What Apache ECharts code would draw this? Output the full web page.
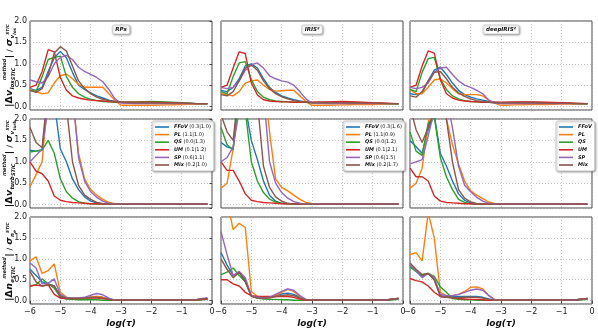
<!DOCTYPE html>
<html><head><meta charset="utf-8">
<script src="https://cdn.jsdelivr.net/npm/echarts@6/dist/echarts.min.js"></script>
<style>html,body{margin:0;padding:0;background:#fff}#c{width:598px;height:329px}</style>
</head><body><div id="c"></div>
<script>
// x positions: log(tau)
const X = [-6,-5.8,-5.6,-5.4,-5.2,-5,-4.8,-4.6,-4.4,-4.2,-4,-3.8,-3.6,-3.4,-3.2,-3,-2.5,-2,-1.5,-1,-0.5,-0.15];
const methods = ['FFoV','PL','QS','UM','SP','Mix'];
const colTitles = ['RPs','IRIS²','deepIRIS²'];
const yTicks = [0.0,0.5,1.0,1.5,2.0];
const xTicks = [-6,-5,-4,-3,-2,-1,0];
const legendRPs = ['FFoV (0.3|1.0)','PL (1.1|1.0)','QS (0.0|1.3)','UM (0.1|1.2)','SP (0.6|1.1)','Mix (0.2|1.0)'];
const legendIRIS = ['FFoV (0.3|1.6)','PL (1.1|0.9)','QS (0.0|1.2)','UM (0.1|2.1)','SP (0.6|1.5)','Mix (0.2|1.7)'];
const legendDeep = ['FFoV','PL','QS','UM','SP','Mix'];

// Row 1: |Δv_los| / σ
const los_RPs_FFoV = [0.42,0.38,0.45,0.82,1.14,1.29,1.14,0.8,0.5,0.4,0.32,0.25,0.2,0.15,0.12,0.1,0.09,0.09,0.08,0.08,0.07,0.07];
const los_RPs_PL   = [0.4,0.35,0.3,0.32,0.55,0.72,0.76,0.65,0.52,0.45,0.45,0.45,0.45,0.3,0.15,0.03,0.03,0.03,0.04,0.05,0.06,0.07];
const los_RPs_QS   = [0.38,0.35,0.7,1.1,1.15,1.18,0.7,0.45,0.3,0.22,0.17,0.14,0.12,0.11,0.1,0.1,0.11,0.12,0.11,0.09,0.07,0.06];
const los_RPs_UM   = [0.45,0.5,0.82,1.33,1.28,0.68,0.38,0.25,0.2,0.17,0.15,0.14,0.13,0.12,0.11,0.1,0.1,0.1,0.09,0.08,0.07,0.07];
const los_RPs_SP   = [0.62,0.58,0.55,0.7,1.0,1.15,1.2,1.1,0.92,0.82,0.75,0.68,0.58,0.4,0.18,0.08,0.07,0.07,0.07,0.07,0.07,0.07];
const los_RPs_Mix  = [0.38,0.33,0.42,0.75,1.25,1.4,1.3,0.95,0.6,0.42,0.3,0.22,0.17,0.14,0.12,0.1,0.09,0.09,0.08,0.08,0.07,0.07];

const los_IRIS_FFoV = [0.38,0.35,0.45,0.65,0.95,1.0,0.9,0.65,0.45,0.33,0.25,0.2,0.16,0.13,0.11,0.1,0.09,0.09,0.09,0.08,0.07,0.07];
const los_IRIS_PL   = [0.3,0.28,0.25,0.35,0.55,0.6,0.62,0.5,0.4,0.36,0.37,0.38,0.38,0.25,0.12,0.03,0.03,0.04,0.05,0.05,0.06,0.06];
const los_IRIS_QS   = [0.35,0.3,0.7,1.02,1.05,0.63,0.35,0.22,0.16,0.13,0.12,0.11,0.1,0.1,0.1,0.09,0.1,0.1,0.09,0.08,0.07,0.06];
const los_IRIS_UM   = [0.45,0.5,0.9,1.28,1.24,0.55,0.27,0.16,0.13,0.12,0.11,0.11,0.1,0.1,0.1,0.1,0.11,0.12,0.11,0.09,0.08,0.07];
const los_IRIS_SP   = [0.45,0.42,0.45,0.6,0.85,0.98,1.02,0.9,0.72,0.65,0.6,0.57,0.5,0.35,0.18,0.08,0.07,0.07,0.07,0.07,0.07,0.07];
const los_IRIS_Mix  = [0.28,0.25,0.35,0.6,0.9,0.97,0.85,0.6,0.42,0.3,0.23,0.18,0.14,0.12,0.1,0.09,0.09,0.09,0.08,0.08,0.07,0.07];

const los_Deep_FFoV = [0.3,0.28,0.32,0.6,0.85,0.92,0.75,0.55,0.38,0.28,0.22,0.18,0.15,0.12,0.1,0.09,0.09,0.09,0.08,0.08,0.07,0.07];
const los_Deep_PL   = [0.4,0.3,0.3,0.45,0.62,0.65,0.55,0.42,0.3,0.28,0.28,0.28,0.25,0.15,0.08,0.03,0.04,0.05,0.05,0.06,0.06,0.06];
const los_Deep_QS   = [0.4,0.35,0.8,1.12,1.15,0.65,0.4,0.25,0.18,0.14,0.12,0.11,0.1,0.1,0.09,0.09,0.1,0.1,0.09,0.08,0.07,0.06];
const los_Deep_UM   = [0.45,0.5,0.95,1.3,1.25,0.63,0.3,0.2,0.15,0.13,0.12,0.11,0.1,0.1,0.1,0.1,0.11,0.11,0.1,0.09,0.08,0.07];
const los_Deep_SP   = [0.45,0.42,0.45,0.55,0.8,0.9,0.92,0.75,0.6,0.5,0.45,0.38,0.3,0.15,0.08,0.07,0.07,0.07,0.07,0.07,0.07,0.07];
const los_Deep_Mix  = [0.25,0.22,0.35,0.6,0.8,0.82,0.65,0.45,0.32,0.24,0.18,0.14,0.12,0.1,0.09,0.09,0.09,0.09,0.08,0.08,0.07,0.07];

// Row 2: |Δv_turb| / σ
const turb_RPs_FFoV = [1.27,1.25,1.27,2.6,2.4,1.3,1.0,0.6,0.35,0.18,0.08,0.04,0.02,0.01,0.01,0.01,0.01,0.01,0.01,0.01,0.01,0.01];
const turb_RPs_PL   = [0.42,0.7,1.0,2.6,3.5,3.6,3.2,2.6,1.2,0.6,0.35,0.22,0.12,0.05,0.02,0.01,0.01,0.01,0.01,0.01,0.01,0.01];
const turb_RPs_QS   = [1.23,1.25,1.28,1.5,1.2,0.6,0.3,0.15,0.07,0.03,0.02,0.01,0.01,0.01,0.01,0.01,0.01,0.01,0.01,0.01,0.01,0.01];
const turb_RPs_UM   = [1.0,0.78,0.72,0.55,0.2,0.1,0.07,0.05,0.04,0.03,0.02,0.02,0.01,0.01,0.01,0.01,0.01,0.01,0.01,0.01,0.01,0.01];
const turb_RPs_SP   = [1.0,1.15,1.3,2.3,3.2,3.5,3.2,2.6,1.1,0.55,0.3,0.17,0.08,0.03,0.01,0.01,0.01,0.01,0.01,0.01,0.01,0.01];
const turb_RPs_Mix  = [1.8,1.45,1.33,2.8,3.2,3.0,2.3,1.0,0.45,0.22,0.12,0.05,0.02,0.01,0.01,0.01,0.01,0.01,0.01,0.01,0.01,0.01];

const turb_IRIS_FFoV = [1.45,1.35,1.3,2.6,2.3,1.5,1.05,0.55,0.22,0.08,0.03,0.02,0.01,0.01,0.01,0.01,0.01,0.01,0.01,0.01,0.01,0.01];
const turb_IRIS_PL   = [0.38,0.5,1.3,2.8,3.5,3.6,3.4,3.0,1.7,0.6,0.4,0.32,0.22,0.12,0.05,0.02,0.01,0.01,0.01,0.01,0.01,0.01];
const turb_IRIS_QS   = [1.8,1.4,1.28,2.6,2.2,1.0,0.55,0.28,0.13,0.06,0.03,0.02,0.01,0.01,0.01,0.01,0.01,0.01,0.01,0.01,0.01,0.01];
const turb_IRIS_UM   = [1.0,0.8,0.8,0.55,0.25,0.1,0.07,0.05,0.04,0.03,0.02,0.02,0.02,0.01,0.01,0.01,0.01,0.01,0.01,0.01,0.01,0.01];
const turb_IRIS_SP   = [1.0,1.1,1.35,2.2,3.0,3.4,3.2,2.6,1.0,0.5,0.28,0.15,0.07,0.03,0.01,0.01,0.01,0.01,0.01,0.01,0.01,0.01];
const turb_IRIS_Mix  = [2.1,1.7,1.5,2.8,3.2,3.0,2.4,0.9,0.4,0.18,0.08,0.03,0.01,0.01,0.01,0.01,0.01,0.01,0.01,0.01,0.01,0.01];

const turb_Deep_FFoV = [1.5,1.35,1.2,1.75,2.1,1.2,0.9,0.55,0.25,0.1,0.04,0.02,0.01,0.01,0.01,0.01,0.01,0.01,0.01,0.01,0.01,0.01];
const turb_Deep_PL   = [0.38,0.5,0.85,1.9,2.6,3.0,2.0,1.4,0.95,0.55,0.32,0.22,0.14,0.06,0.02,0.01,0.01,0.01,0.01,0.01,0.01,0.01];
const turb_Deep_QS   = [1.7,1.25,1.15,1.9,2.05,1.1,0.65,0.35,0.12,0.05,0.02,0.01,0.01,0.01,0.01,0.01,0.01,0.01,0.01,0.01,0.01,0.01];
const turb_Deep_UM   = [0.85,0.65,0.65,0.55,0.2,0.08,0.05,0.04,0.03,0.02,0.02,0.01,0.01,0.01,0.01,0.01,0.01,0.01,0.01,0.01,0.01,0.01];
const turb_Deep_SP   = [0.95,1.0,1.05,1.6,2.2,2.8,2.5,1.8,0.9,0.45,0.3,0.17,0.08,0.03,0.01,0.01,0.01,0.01,0.01,0.01,0.01,0.01];
const turb_Deep_Mix  = [2.3,1.75,1.45,1.8,2.2,2.4,2.0,1.0,0.35,0.15,0.06,0.02,0.01,0.01,0.01,0.01,0.01,0.01,0.01,0.01,0.01,0.01];

// Row 3: |Δn_e| / σ
const ne_RPs_FFoV = [0.75,0.6,0.45,0.4,0.35,0.12,0.07,0.06,0.06,0.07,0.09,0.1,0.08,0.04,0.01,0.01,0.01,0.01,0.01,0.01,0.02,0.05];
const ne_RPs_PL   = [0.95,1.05,0.65,0.72,0.88,0.2,0.08,0.05,0.05,0.06,0.08,0.1,0.08,0.04,0.01,0.01,0.01,0.01,0.01,0.01,0.02,0.04];
const ne_RPs_QS   = [0.35,0.38,0.52,0.4,0.3,0.08,0.04,0.03,0.02,0.02,0.02,0.02,0.01,0.01,0.01,0.01,0.01,0.01,0.01,0.01,0.01,0.03];
const ne_RPs_UM   = [0.35,0.37,0.35,0.38,0.15,0.06,0.05,0.05,0.05,0.06,0.06,0.06,0.05,0.03,0.01,0.01,0.01,0.01,0.01,0.01,0.02,0.04];
const ne_RPs_SP   = [0.9,0.78,0.4,0.42,0.52,0.15,0.07,0.06,0.06,0.08,0.13,0.17,0.14,0.06,0.01,0.01,0.01,0.01,0.01,0.01,0.03,0.07];
const ne_RPs_Mix  = [0.7,0.45,0.35,0.38,0.35,0.1,0.06,0.05,0.05,0.06,0.07,0.08,0.06,0.03,0.01,0.01,0.01,0.01,0.01,0.01,0.02,0.05];

const ne_IRIS_FFoV = [1.15,0.85,0.6,0.68,0.5,0.12,0.07,0.07,0.08,0.12,0.16,0.18,0.15,0.08,0.02,0.01,0.01,0.01,0.01,0.01,0.02,0.05];
const ne_IRIS_PL   = [2.6,2.4,1.7,1.85,1.75,0.22,0.1,0.07,0.07,0.12,0.2,0.27,0.22,0.1,0.02,0.01,0.01,0.01,0.01,0.01,0.02,0.05];
const ne_IRIS_QS   = [0.62,0.68,0.78,0.6,0.45,0.12,0.06,0.04,0.03,0.03,0.02,0.02,0.01,0.01,0.01,0.01,0.01,0.01,0.01,0.01,0.01,0.03];
const ne_IRIS_UM   = [0.5,0.5,0.4,0.35,0.2,0.12,0.1,0.1,0.1,0.1,0.1,0.1,0.08,0.04,0.01,0.01,0.01,0.01,0.01,0.01,0.02,0.06];
const ne_IRIS_SP   = [1.65,1.1,0.6,0.7,0.55,0.12,0.08,0.07,0.08,0.15,0.22,0.28,0.25,0.12,0.03,0.01,0.01,0.01,0.01,0.01,0.02,0.05];
const ne_IRIS_Mix  = [1.0,0.75,0.55,0.68,0.45,0.1,0.06,0.06,0.07,0.1,0.12,0.14,0.12,0.06,0.02,0.01,0.01,0.01,0.01,0.01,0.02,0.05];

const ne_Deep_FFoV = [0.85,0.7,0.58,0.65,0.5,0.12,0.1,0.1,0.1,0.1,0.1,0.1,0.08,0.04,0.01,0.01,0.01,0.01,0.01,0.01,0.02,0.04];
const ne_Deep_PL   = [1.1,1.15,0.95,2.1,1.5,0.2,0.12,0.12,0.15,0.22,0.32,0.33,0.28,0.12,0.02,0.01,0.01,0.01,0.01,0.01,0.02,0.04];
const ne_Deep_QS   = [0.8,0.7,0.62,0.65,0.58,0.33,0.2,0.05,0.03,0.02,0.02,0.01,0.01,0.01,0.01,0.01,0.01,0.01,0.01,0.01,0.01,0.03];
const ne_Deep_UM   = [0.53,0.48,0.45,0.35,0.2,0.1,0.08,0.07,0.05,0.04,0.03,0.03,0.02,0.01,0.01,0.01,0.01,0.01,0.01,0.01,0.02,0.05];
const ne_Deep_SP   = [0.85,0.72,0.55,0.65,0.55,0.15,0.12,0.12,0.15,0.2,0.25,0.28,0.25,0.12,0.02,0.01,0.01,0.01,0.01,0.01,0.02,0.05];
const ne_Deep_Mix  = [0.9,0.75,0.62,0.65,0.5,0.1,0.08,0.07,0.07,0.08,0.08,0.08,0.06,0.03,0.01,0.01,0.01,0.01,0.01,0.01,0.02,0.05];

const panelData = [
  [[los_RPs_FFoV,los_RPs_PL,los_RPs_QS,los_RPs_UM,los_RPs_SP,los_RPs_Mix],
   [los_IRIS_FFoV,los_IRIS_PL,los_IRIS_QS,los_IRIS_UM,los_IRIS_SP,los_IRIS_Mix],
   [los_Deep_FFoV,los_Deep_PL,los_Deep_QS,los_Deep_UM,los_Deep_SP,los_Deep_Mix]],
  [[turb_RPs_FFoV,turb_RPs_PL,turb_RPs_QS,turb_RPs_UM,turb_RPs_SP,turb_RPs_Mix],
   [turb_IRIS_FFoV,turb_IRIS_PL,turb_IRIS_QS,turb_IRIS_UM,turb_IRIS_SP,turb_IRIS_Mix],
   [turb_Deep_FFoV,turb_Deep_PL,turb_Deep_QS,turb_Deep_UM,turb_Deep_SP,turb_Deep_Mix]],
  [[ne_RPs_FFoV,ne_RPs_PL,ne_RPs_QS,ne_RPs_UM,ne_RPs_SP,ne_RPs_Mix],
   [ne_IRIS_FFoV,ne_IRIS_PL,ne_IRIS_QS,ne_IRIS_UM,ne_IRIS_SP,ne_IRIS_Mix],
   [ne_Deep_FFoV,ne_Deep_PL,ne_Deep_QS,ne_Deep_UM,ne_Deep_SP,ne_Deep_Mix]]
];

const colors = ['#1f77b4','#ff7f0e','#2ca02c','#d62728','#9467bd','#8c564b'];
const FONT = 'DejaVu Sans';
const colLeft = [30, 221, 410], rowTop = [21, 119, 217], W = 182, H = 89;
const YMIN = -0.08, YMAX = 2.0;

const chart = echarts.init(document.getElementById('c'), null, {renderer: 'canvas'});
const grids = [], xAxes = [], yAxes = [], series = [], graphics = [];
const gridLine = {show: true, lineStyle: {color: '#b8b8b8', width: 0.8, type: [1, 2]}};

for (let r = 0; r < 3; r++) {
  for (let c = 0; c < 3; c++) {
    const i = r * 3 + c;
    grids.push({left: colLeft[c], top: rowTop[r], width: W, height: H, show: true,
      borderColor: '#444', borderWidth: 1, backgroundColor: 'rgba(0,0,0,0)', containLabel: false});
    xAxes.push({gridIndex: i, type: 'value', min: -6, max: 0, interval: 1,
      axisLine: {show: false},
      axisTick: {show: r === 2, length: 3, lineStyle: {color: '#444'}},
      axisLabel: {show: r === 2, fontSize: 8, color: '#222', fontFamily: FONT, margin: 4,
        formatter: v => (xTicks.includes(v) ? (v < 0 ? '\u2212' + Math.abs(v) : String(v)) : '')},
      splitLine: gridLine,
      name: r === 2 ? 'log(\u03c4)' : '', nameLocation: 'middle', nameGap: 15,
      nameTextStyle: {fontStyle: 'italic', fontWeight: 'bold', fontSize: 9, color: '#111', fontFamily: FONT}});
    yAxes.push({gridIndex: i, type: 'value', min: YMIN, max: YMAX,
      axisLine: {show: false},
      axisTick: {show: c === 0, length: 2.5, lineStyle: {color: '#444'}},
      axisLabel: {show: c === 0, fontSize: 8, color: '#222', fontFamily: FONT, margin: 3,
        formatter: v => { const t = yTicks.find(t => Math.abs(t - v) < 1e-6); return t === undefined ? '' : t.toFixed(1); }},
      splitLine: gridLine});
    const names = r === 1 ? (c === 0 ? legendRPs : c === 1 ? legendIRIS : legendDeep)
                          : methods.map(m => m + ' r' + r + 'c' + c);
    panelData[r][c].forEach((arr, k) => {
      series.push({type: 'line', name: names[k], xAxisIndex: i, yAxisIndex: i,
        data: X.map((x, j) => [x, arr[j]]), showSymbol: false, symbol: 'none', clip: true,
        lineStyle: {width: 1.4, color: colors[k]}, itemStyle: {color: colors[k]},
        animation: false, z: 2 + k});
    });
  }
}

// legends in row 2
const legendBase = {orient: 'vertical', icon: 'rect', itemWidth: 14, itemHeight: 1.6, itemGap: 1.6,
  backgroundColor: '#fff', borderColor: '#bbb', borderWidth: 0.7, borderRadius: 2,
  padding: [3, 3, 3, 3], shadowBlur: 2, shadowColor: 'rgba(0,0,0,0.35)', shadowOffsetX: 1, shadowOffsetY: 1,
  selectedMode: false,
  textStyle: {fontSize: 5, lineHeight: 6, color: '#111', fontFamily: FONT,
    rich: {b: {fontSize: 5, fontStyle: 'italic', fontWeight: 'bold', fontFamily: FONT, color: '#111'},
           n: {fontSize: 5, fontFamily: FONT, color: '#111'}}},
  formatter: name => { const m = name.match(/^(\S+)(.*)$/); return '{b|' + m[1] + '}' + (m[2] ? '{n|' + m[2] + '}' : ''); }};
const legends = [
  Object.assign({}, legendBase, {data: legendRPs, left: 152, top: 121}),
  Object.assign({}, legendBase, {data: legendIRIS, left: 343, top: 121}),
  Object.assign({}, legendBase, {data: legendDeep, left: 556, top: 121})
];

// panel titles
const mctx = document.createElement('canvas').getContext('2d');
function tw(t, sz, it, wt) { mctx.font = (it ? 'italic ' : '') + (wt || 'bold') + ' ' + sz + 'px "' + FONT + '"'; return mctx.measureText(t).width; }
colTitles.forEach((t, c) => {
  const w = tw(t, 5.5, true) + 6, cx = colLeft[c] + W / 2;
  graphics.push({type: 'rect', shape: {x: cx - w / 2, y: 25, width: w, height: 9, r: 1.5}, z: 50,
    style: {fill: '#fff', stroke: '#bbb', lineWidth: 0.6, shadowBlur: 2, shadowColor: 'rgba(0,0,0,0.35)', shadowOffsetX: 1, shadowOffsetY: 1}});
  graphics.push({type: 'text', x: cx, y: 29.5, z: 51,
    style: {text: t, fontSize: 5.5, fontStyle: 'italic', fontWeight: 'bold', fontFamily: FONT, fill: '#111', align: 'center', verticalAlign: 'middle'}});
});

// y-axis labels (rotated math-like text)
function yLabel(v, sub, cy) {
  const toks = [
    [{t: '|\u0394', sz: 9.5, it: false, dy: 0}],
    [{t: v, sz: 9.5, it: true, dy: 0}],
    [{t: sub, sz: 5.5, it: true, dy: 3}],
    [{t: 'method', sz: 5, it: true, dy: -5}, {t: 'STIC', sz: 5, it: true, dy: 3.5}],
    [{t: '|', sz: 9.5, it: false, dy: 0}],
    [{t: ' / ', sz: 7.5, it: false, dy: 0}],
    [{t: '\u03c3', sz: 9.5, it: true, dy: 0}],
    [{t: v, sz: 5.5, it: true, dy: 3}],
    [{t: 'STIC', sz: 4.2, it: true, dy: -2}, {t: sub, sz: 4.2, it: true, dy: 5}]
  ];
  let pos = 0; const items = [];
  toks.forEach(g => {
    let mw = 0;
    g.forEach(k => { const w = tw(k.t, k.sz, k.it); mw = Math.max(mw, w); items.push({k, x: pos}); });
    pos += mw + 0.3;
  });
  const total = pos;
  return {type: 'group', x: 10, y: cy, rotation: Math.PI / 2, z: 60,
    children: items.map(o => ({type: 'text', x: o.x - total / 2, y: o.k.dy,
      style: {text: o.k.t, fontSize: o.k.sz, fontWeight: 'bold', fontStyle: o.k.it ? 'italic' : 'normal',
        fontFamily: FONT, fill: '#111', align: 'left', verticalAlign: 'middle'}}))};
}
graphics.push(yLabel('v', 'los', rowTop[0] + H / 2));
graphics.push(yLabel('v', 'turb', rowTop[1] + H / 2));
graphics.push(yLabel('n', 'e', rowTop[2] + H / 2));

chart.setOption({
  animation: false,
  backgroundColor: '#fff',
  grid: grids, xAxis: xAxes, yAxis: yAxes, series: series,
  legend: legends, graphic: graphics
});
</script></body></html>
